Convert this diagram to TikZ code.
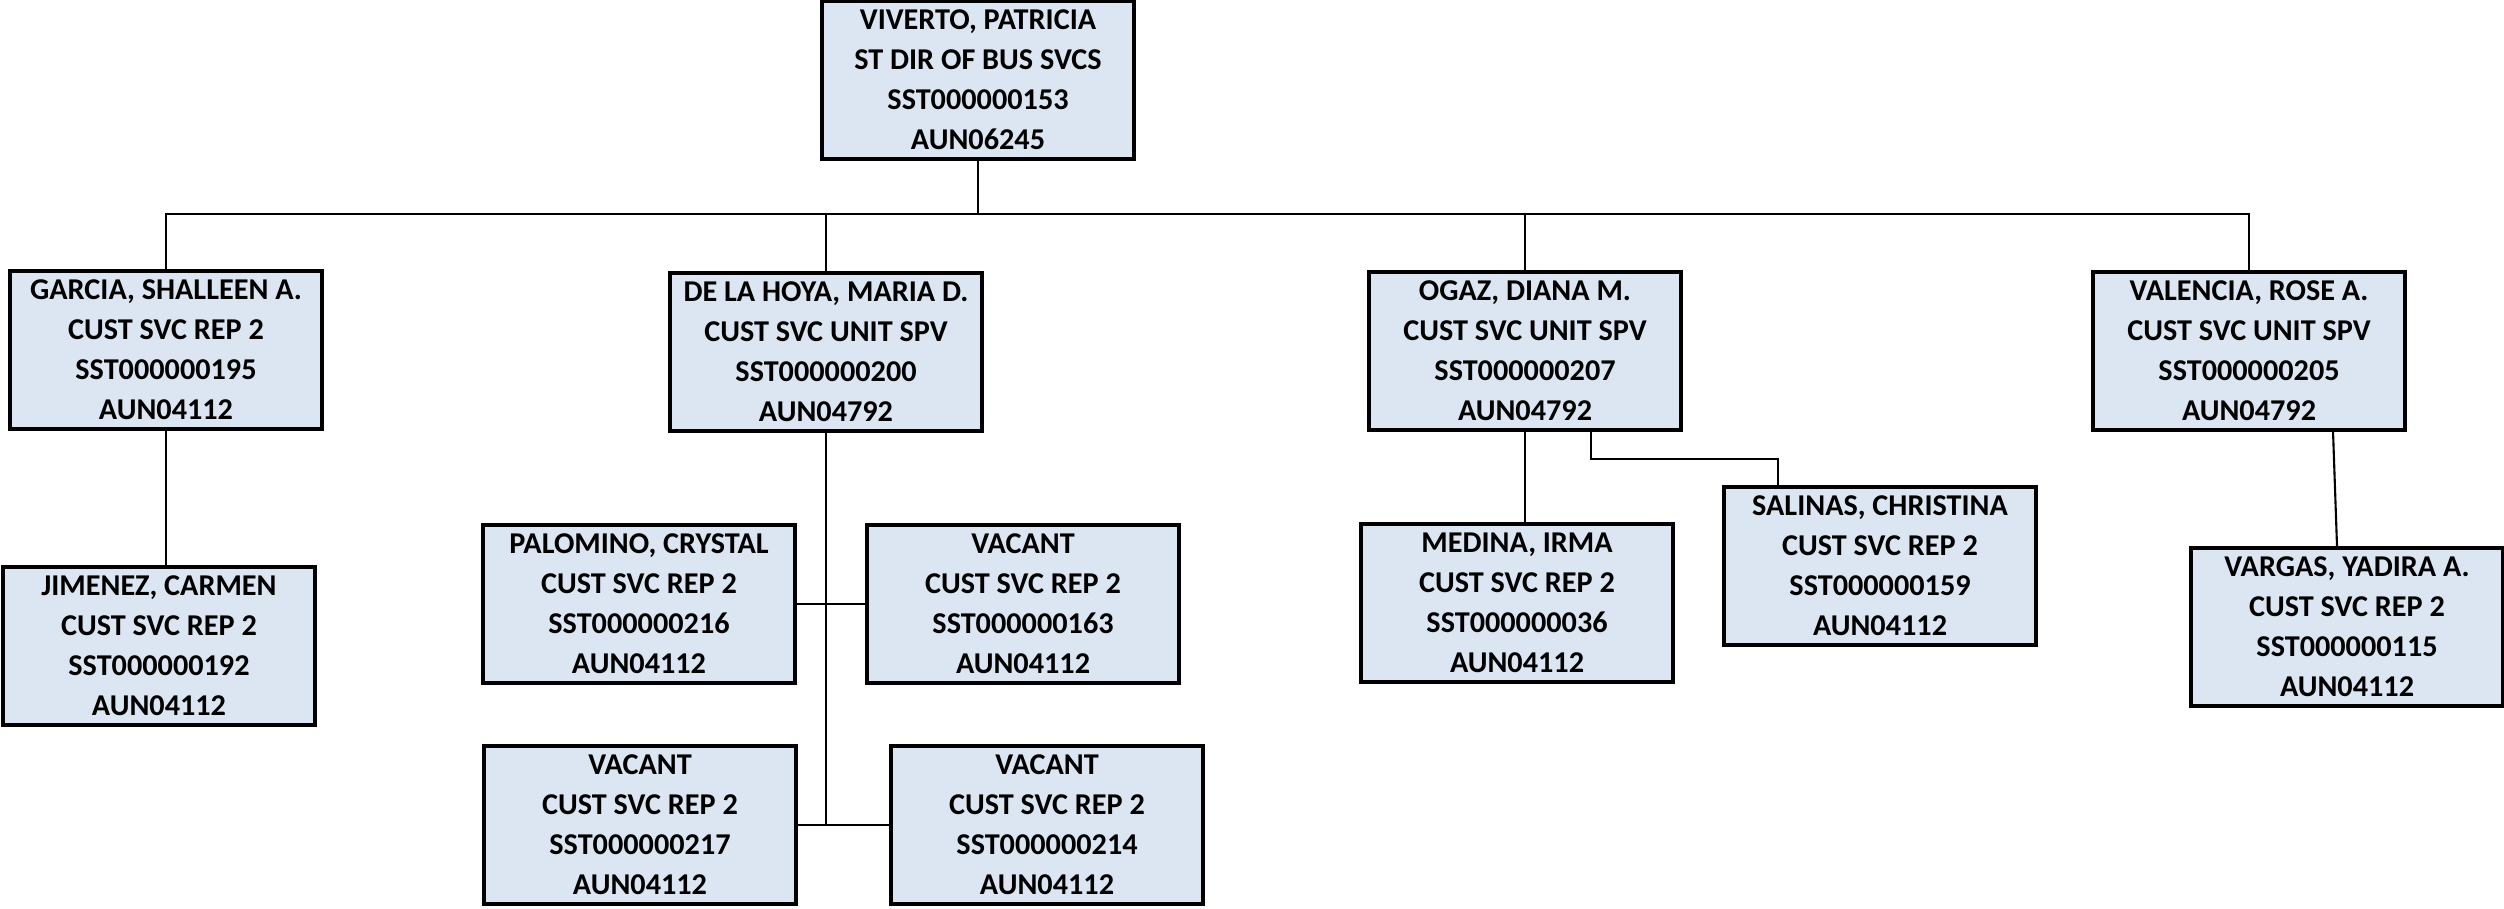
\documentclass[tikz,border=0pt]{standalone}
\usepackage{fontspec}
\setmainfont{Carlito}
\usetikzlibrary{calc}
\definecolor{boxfill}{RGB}{220,230,242}

\begin{document}
\begin{tikzpicture}[x=0.1mm,y=-0.1mm,
	post/.style={draw, line width=0.9pt, fill=boxfill, minimum width=3.12cm, minimum height=1.58cm, inner sep=0pt, align=center, font=\fontsize{8.6}{11.4}\selectfont\bfseries},
	link/.style={line width=0.6pt}]
	
	\useasboundingbox (0,0) rectangle (2504,909);
	
	% top
	\node[post] (viverto) at (978,80) {VIVERTO, PATRICIA\\ST DIR OF BUS SVCS\\SST000000153\\AUN06245};
	\coordinate (bus) at (978,214);
	
	% supervisors
	\node[post] (garcia) at (166,350) {GARCIA, SHALLEEN A.\\CUST SVC REP 2\\SST000000195\\AUN04112};
	\node[post] (delahoya) at (826,352) {DE LA HOYA, MARIA D.\\CUST SVC UNIT SPV\\SST000000200\\AUN04792};
	\node[post] (ogaz) at (1525,351) {OGAZ, DIANA M.\\CUST SVC UNIT SPV\\SST000000207\\AUN04792};
	\node[post] (valencia) at (2249,351) {VALENCIA, ROSE A.\\CUST SVC UNIT SPV\\SST000000205\\AUN04792};
	
	% staff
	\node[post] (jimenez) at (159,646) {JIMENEZ, CARMEN\\CUST SVC REP 2\\SST000000192\\AUN04112};
	\node[post] (palomino) at (639,604) {PALOMINO, CRYSTAL\\CUST SVC REP 2\\SST000000216\\AUN04112};
	\node[post] (vacantA) at (1023,604) {VACANT\\CUST SVC REP 2\\SST000000163\\AUN04112};
	\node[post] (vacantB) at (640,825) {VACANT\\CUST SVC REP 2\\SST000000217\\AUN04112};
	\node[post] (vacantC) at (1047,825) {VACANT\\CUST SVC REP 2\\SST000000214\\AUN04112};
	\node[post] (medina) at (1517,603) {MEDINA, IRMA\\CUST SVC REP 2\\SST000000036\\AUN04112};
	\node[post] (salinas) at (1880,566) {SALINAS, CHRISTINA\\CUST SVC REP 2\\SST000000159\\AUN04112};
	\node[post] (vargas) at (2347,627) {VARGAS, YADIRA A.\\CUST SVC REP 2\\SST000000115\\AUN04112};
	
	% bus
	\draw[link] (viverto.south) -- (bus);
	\draw[link] (garcia.north) |- (bus) -| (valencia.north);
	\draw[link] (delahoya.north) -- (delahoya.north |- bus);
	\draw[link] (ogaz.north) -- (ogaz.north |- bus);
	
	% garcia
	\draw[link] (garcia.south) -- (garcia.south |- jimenez.north);
	
	% de la hoya
	\draw[link] (vacantB.east) -| (delahoya.south);
	\draw[link] (vacantC.west) -- (vacantC.west -| delahoya.south);
	\draw[link] (palomino.east) -- (vacantA.west);
	
	% ogaz
	\draw[link] (ogaz.south) -- (ogaz.south |- medina.north);
	\draw[link] ($(ogaz.south)+(66,0)$) -- ++(0,27) -| ($(salinas.north)+(-102,0)$);
	
	% valencia
	\draw[link] ($(valencia.south)+(84,0)$) -- ($(vargas.north)+(-10,0)$);
	
\end{tikzpicture}
\end{document}
